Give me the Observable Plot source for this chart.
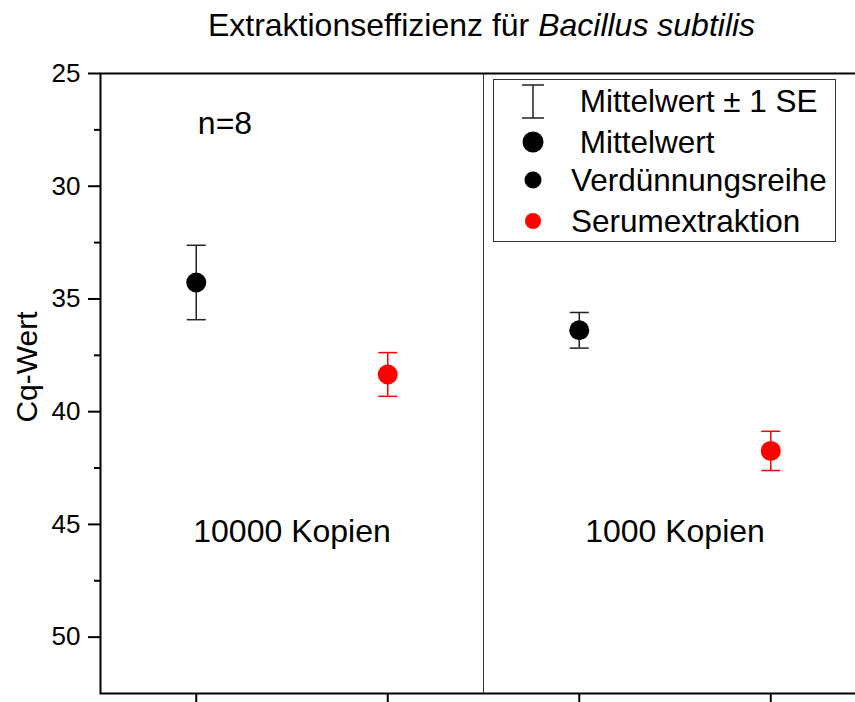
<!DOCTYPE html>
<html><head><meta charset="utf-8">
<script src="https://cdn.jsdelivr.net/npm/d3@7"></script>
<script src="https://cdn.jsdelivr.net/npm/@observablehq/plot@0.6"></script>
<style>
html,body{margin:0;padding:0;background:#fff;overflow:hidden;}
body{width:855px;height:702px;position:relative;font-family:"Liberation Sans",Arial,sans-serif;}
#chart{position:absolute;left:0;top:0;}
#chart svg{max-width:none !important;}
#overlay{position:absolute;left:0;top:0;pointer-events:none;}
</style></head><body>
<div id="chart"></div>
<svg id="overlay" width="855" height="702"></svg>
<script>
// ---- data ----
const titleMain = "Extraktionseffizienz für ";
const titleItalic = "Bacillus subtilis";
const yLabel = "Cq-Wert";
const groups = ["10000 Kopien", "10000 Kopien", "1000 Kopien", "1000 Kopien"];
const series = ["Verdünnungsreihe", "Serumextraktion", "Verdünnungsreihe", "Serumextraktion"];
const xPositions = [1, 2, 3, 4];
const means = [34.27, 38.35, 36.39, 41.74];
const se = [1.65, 0.97, 0.79, 0.87];
const seriesNames = ["Verdünnungsreihe", "Serumextraktion"];
const seriesColors = ["#000000", "#ff0000"];
const yTicks = [25, 30, 35, 40, 45, 50];
const yMinorTicks = [27.5, 32.5, 37.5, 42.5, 47.5];
const yDomain = [25, 52.5];
const xDomain = [0.5, 4.5];
const groupLabels = ["10000 Kopien", "1000 Kopien"];
const groupLabelX = [1.5, 3.5];
const groupLabelY = [45.31, 45.31];
const noteText = ["n=8"];
const noteX = [1.15];
const noteY = [27.21];
const legendLabels = [" Mittelwert ± 1 SE", " Mittelwert", "Verdünnungsreihe", "Serumextraktion"];

// ---- build table ----
const rows = xPositions.map((x, i) => ({
  x, group: groups[i], series: series[i], mean: means[i],
  lo: means[i] - se[i], hi: means[i] + se[i]
}));
const groupText = groupLabels.map((t, i) => ({t, x: groupLabelX[i], y: groupLabelY[i]}));
const notes = noteText.map((t, i) => ({t, x: noteX[i], y: noteY[i]}));
const dividers = [(xPositions[1] + xPositions[2]) / 2];

const capSymbol = {
  draw(ctx, size) {
    const r = Math.sqrt(size / Math.PI);
    ctx.moveTo(-r, 0); ctx.lineTo(r, 0);
  }
};
const colorOf = s => seriesColors[seriesNames.indexOf(s)];
const barColor = d => d.series === seriesNames[0] ? "#222" : colorOf(d.series);

const chart = Plot.plot({
  width: 866, height: 702,
  marginLeft: 100, marginRight: 0, marginTop: 73, marginBottom: 9,
  style: "font-family:'Liberation Sans',Arial,sans-serif;max-width:none;overflow:visible;",
  x: {domain: xDomain, axis: null},
  y: {domain: yDomain, reverse: true, axis: null, label: null},
  marks: [
    Plot.ruleX(dividers, {stroke: "#333", strokeWidth: 1}),
    Plot.axisY({ticks: yTicks, tickSize: 12, tickPadding: 8, fontSize: 26, strokeWidth: 2, label: null, color: "#000"}),
    Plot.axisY({ticks: yMinorTicks, tickSize: 6, strokeWidth: 2, fill: "none", label: null, stroke: "#000"}),
    Plot.axisY({anchor: "right", ticks: yTicks, tickSize: -12, strokeWidth: 2, fill: "none", label: null, stroke: "#000"}),
    Plot.axisX({ticks: xPositions, tickSize: 14, strokeWidth: 2, fill: "none", label: null, stroke: "#000"}),
    Plot.frame({stroke: "#000", strokeWidth: 2}),
    Plot.ruleX(rows, {x: "x", y1: "lo", y2: "hi", stroke: barColor, strokeWidth: 1.5}),
    Plot.dot(rows, {x: "x", y: "lo", symbol: capSymbol, r: 9.5, stroke: barColor, strokeWidth: 1.5, fill: "none"}),
    Plot.dot(rows, {x: "x", y: "hi", symbol: capSymbol, r: 9.5, stroke: barColor, strokeWidth: 1.5, fill: "none"}),
    Plot.dot(rows, {x: "x", y: "mean", r: 10, fill: d => colorOf(d.series), stroke: "none"}),
    Plot.text(groupText, {x: "x", y: "y", text: "t", fontSize: 32, fill: "#000", textAnchor: "middle", lineAnchor: "middle"}),
    Plot.text(notes, {x: "x", y: "y", text: "t", fontSize: 32, fill: "#000", textAnchor: "middle", lineAnchor: "middle"})
  ]
});
document.getElementById("chart").appendChild(chart);

// ---- overlay: title, y label, legend ----
const ov = d3.select("#overlay").style("font-family", "'Liberation Sans',Arial,sans-serif");
const t = ov.append("text").attr("x", 481.5).attr("y", 36).attr("text-anchor", "middle")
  .attr("font-size", 32).attr("fill", "#000");
t.append("tspan").text(titleMain);
t.append("tspan").attr("font-style", "italic").text(titleItalic);

ov.append("text").attr("transform", "translate(37,367) rotate(-90)")
  .attr("text-anchor", "middle").attr("font-size", 30).attr("fill", "#000").text(yLabel);

// legend
const lg = ov.append("g");
lg.append("rect").attr("x", 493.5).attr("y", 79.5).attr("width", 342).attr("height", 162)
  .attr("fill", "#fff").attr("stroke", "#333").attr("stroke-width", 1);
const symX = 533;
const rowY = [101, 142, 180, 221];
lg.append("path").attr("d", `M${symX},85V118M${symX-11},85H${symX+11}M${symX-11},118H${symX+11}`)
  .attr("stroke", "#222").attr("stroke-width", 1.5).attr("fill", "none");
lg.append("circle").attr("cx", symX).attr("cy", rowY[1]).attr("r", 10.5).attr("fill", "#000");
lg.append("circle").attr("cx", symX).attr("cy", rowY[2]).attr("r", 8.5).attr("fill", colorOf(seriesNames[0]));
lg.append("circle").attr("cx", symX).attr("cy", rowY[3]).attr("r", 8).attr("fill", colorOf(seriesNames[1]));
legendLabels.forEach((l, i) => {
  lg.append("text").attr("x", 571).attr("y", rowY[i] + 11).attr("font-size", 31.5)
    .attr("fill", "#000").style("white-space", "pre").text(l);
});
</script>
</body></html>
